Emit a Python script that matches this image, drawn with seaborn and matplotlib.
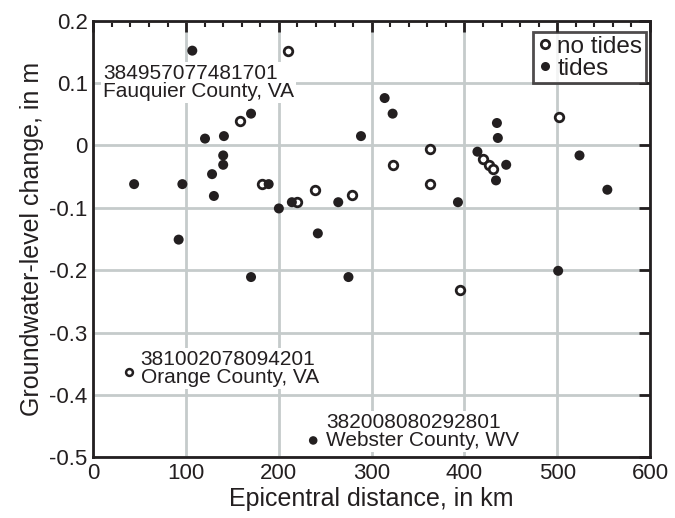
import matplotlib
matplotlib.use("Agg")
import matplotlib.pyplot as plt
import seaborn as sns
import pandas as pd
from matplotlib.lines import Line2D
from matplotlib.ticker import MultipleLocator

# Wells without tidal response
no_tides_dist = [210, 158, 182, 239, 279, 220, 322.6, 363, 363, 420, 426, 431, 502, 395]
no_tides_change = [0.152, 0.039, -0.062, -0.071, -0.080, -0.091, -0.031, -0.005,
                   -0.062, -0.022, -0.031, -0.038, 0.045, -0.232]

# Wells with tidal response
tides_dist = [106.7, 170, 120.4, 140.8, 288.5, 314, 322.6, 140, 140, 128, 44, 96, 189,
              130, 200, 214, 264, 242, 92, 170, 275, 393, 435, 436, 414, 445, 434,
              524, 554, 501]
tides_change = [0.152, 0.051, 0.011, 0.015, 0.015, 0.076, 0.051, -0.016, -0.031, -0.046,
                -0.062, -0.062, -0.062, -0.081, -0.101, -0.091, -0.091, -0.141, -0.151,
                -0.211, -0.211, -0.091, 0.036, 0.012, -0.010, -0.031, -0.056, -0.016,
                -0.071, -0.201]

# Labelled wells
orange_dist, orange_change = [39], [-0.364]
webster_dist, webster_change = [237], [-0.473]

labels = {
    "fauquier": "384957077481701\nFauquier County, VA",
    "orange": "381002078094201\nOrange County, VA",
    "webster": "382008080292801\nWebster County, WV",
}

ink = "#231f20"
grid_col = "#c5cbcb"

sns.set_theme(style="white")
plt.rcParams["font.family"] = ["Liberation Sans", "DejaVu Sans"]

fig = plt.figure(figsize=(6.75, 5.18), dpi=100)
ax = fig.add_axes([0.1382, 0.1172, 0.963 - 0.1382, 0.96 - 0.1172])

df_open = pd.DataFrame({"d": no_tides_dist, "c": no_tides_change})
df_fill = pd.DataFrame({"d": tides_dist, "c": tides_change})

sns.scatterplot(data=df_open, x="d", y="c", ax=ax, s=38, marker="o",
                facecolor="white", edgecolor=ink, linewidth=2.0, zorder=3)
sns.scatterplot(data=df_fill, x="d", y="c", ax=ax, s=52, marker="o",
                color=ink, edgecolor="none", zorder=3)
sns.scatterplot(x=orange_dist, y=orange_change, ax=ax, s=24, marker="o",
                facecolor="white", edgecolor=ink, linewidth=1.8, zorder=3)
sns.scatterplot(x=webster_dist, y=webster_change, ax=ax, s=38, marker="o",
                color=ink, edgecolor="none", zorder=3)

box = dict(facecolor="white", edgecolor="none", pad=1.5)
ax.text(10.8, 0.130, labels["fauquier"], fontsize=15, color=ink, ha="left", va="top",
        linespacing=0.92, bbox=box, zorder=2)
ax.text(51, -0.328, labels["orange"], fontsize=15, color=ink, ha="left", va="top",
        linespacing=0.92, bbox=box, zorder=2)
ax.text(250.8, -0.429, labels["webster"], fontsize=15, color=ink, ha="left", va="top",
        linespacing=0.92, bbox=box, zorder=2)

ax.set_xlim(0, 600)
ax.set_ylim(-0.5, 0.2)
ax.xaxis.set_major_locator(MultipleLocator(100))
ax.xaxis.set_minor_locator(MultipleLocator(20))
ax.set_yticks([0.2, 0.1, 0, -0.1, -0.2, -0.3, -0.4, -0.5])
ax.set_yticklabels(["0.2", "0.1", "0", "-0.1", "-0.2", "-0.3", "-0.4", "-0.5"])

ax.grid(True, which="major", color=grid_col, linewidth=2.0, zorder=0)
ax.set_axisbelow(True)
for sp in ax.spines.values():
    sp.set_color(ink)
    sp.set_linewidth(2.0)

ax.tick_params(which="both", direction="in", top=True, right=True, colors=ink,
               labelcolor=ink, labelsize=16)
ax.tick_params(which="major", length=8, width=2.0, pad=4)
ax.tick_params(which="minor", length=4, width=1.5)

ax.set_xlabel("Epicentral distance, in km", fontsize=18, color=ink, labelpad=2)
ax.set_ylabel("Groundwater-level change, in m", fontsize=18, color=ink, labelpad=4)

handles = [
    Line2D([], [], linestyle="none", marker="o", markersize=6, markerfacecolor="white",
           markeredgecolor=ink, markeredgewidth=2.0, label="no tides"),
    Line2D([], [], linestyle="none", marker="o", markersize=6.5, markerfacecolor=ink,
           markeredgecolor="none", label="tides"),
]
leg = ax.legend(handles=handles, loc="upper right", bbox_to_anchor=(0.9928, 0.974),
                fontsize=17.5, frameon=True, fancybox=False, borderpad=0.15,
                labelspacing=0.0, handletextpad=0.15, handlelength=0.7,
                borderaxespad=0.0)
leg.get_frame().set_edgecolor(ink)
leg.get_frame().set_linewidth(2.0)
for t in leg.get_texts():
    t.set_color(ink)

fig.savefig("out.png", dpi=100)
